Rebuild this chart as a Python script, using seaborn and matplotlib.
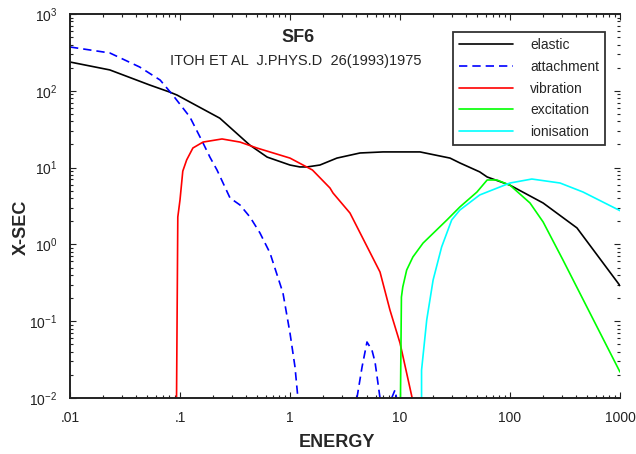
import numpy as np
import pandas as pd
import matplotlib
matplotlib.use('Agg')
import matplotlib.pyplot as plt
from matplotlib.ticker import FixedLocator, FixedFormatter, LogLocator, LogFormatterMathtext
import seaborn as sns

# cross sections (energy in eV, x-sec)
elastic_e = [0.01, 0.023, 0.053, 0.081, 0.094, 0.23, 0.43, 0.62, 1.0, 1.23, 1.43, 1.87,
             2.67, 4.33, 7.0, 15.2, 28.5, 35, 53, 62, 100, 200, 406, 1000]
elastic_x = [237, 187, 119, 96, 88, 44, 19.7, 13.7, 10.8, 10.2, 10.2, 10.8,
             13.3, 15.5, 16.0, 16.0, 13.3, 11.5, 8.8, 7.55, 5.9, 3.46, 1.64, 0.29]

attach_e = [0.01, 0.023, 0.043, 0.066, 0.086, 0.123, 0.162, 0.187, 0.217, 0.285, 0.351,
            0.433, 0.533, 0.658, 0.863, 1.0, 1.11, 1.18,
            4.06, 4.52, 5.01, 5.56, 5.93, 6.58,
            8.4, 9.0, 9.3]
attach_x = [372, 311, 204, 138, 88, 45.6, 20.9, 13.7, 9.3, 4.02, 3.26,
            2.27, 1.41, 0.773, 0.233, 0.070, 0.0254, 0.01,
            0.01, 0.0254, 0.0536, 0.042, 0.0294, 0.01,
            0.01, 0.0127, 0.01]
attach_seg = [1] * 18 + [2] * 6 + [3] * 3

vib_e = [0.093, 0.0955, 0.1, 0.1035, 0.106, 0.115, 0.131, 0.162, 0.241, 0.351, 0.5, 1.0,
         1.6, 2.31, 2.46, 3.51, 6.58, 8.1, 10, 12.9]
vib_x = [0.01, 2.27, 3.79, 6.3, 9.0, 12.6, 18, 21.5, 23.6, 21.5, 18, 13.3,
         9.3, 5.42, 4.67, 2.56, 0.437, 0.14, 0.052, 0.01]

excit_e = [10.1, 10.3, 10.6, 11.5, 13.1, 16.2, 26.7, 35, 50, 62, 76, 100, 152, 200, 303, 1000]
excit_x = [0.01, 0.206, 0.279, 0.464, 0.686, 1.04, 2.08, 3.07, 4.8, 6.9, 6.9, 5.9, 3.46,
           1.96, 0.627, 0.0218]

ion_e = [15.7, 15.7, 17.5, 20, 23.9, 29.5, 35, 53, 62, 100, 158, 285, 461, 1000]
ion_x = [0.01, 0.023, 0.104, 0.344, 0.925, 2.08, 2.8, 4.4, 4.81, 6.3, 7.1, 6.3, 4.81, 2.75]

processes = ['elastic', 'attachment', 'vibration', 'excitation', 'ionisation']
colors = ['#000000', '#0000ff', '#ff0000', '#00ff00', '#00ffff']
x_ticks = [0.01, 0.1, 1, 10, 100, 1000]
x_ticklabels = ['.01', '.1', '1', '10', '100', '1000']

# long table, one unit per drawn piece
parts = [
    ('elastic', elastic_e, elastic_x, [0] * len(elastic_e)),
    ('attachment', attach_e, attach_x, attach_seg),
    ('vibration', vib_e, vib_x, [0] * len(vib_e)),
    ('excitation', excit_e, excit_x, [0] * len(excit_e)),
    ('ionisation', ion_e, ion_x, [0] * len(ion_e)),
]
frames = []
for name, e, x, seg in parts:
    frames.append(pd.DataFrame({'energy': e, 'xsec': x, 'process': name,
                                'unit': [f'{name}{s}' for s in seg]}))
df = pd.concat(frames, ignore_index=True)

sns.set_style('ticks')
plt.rcParams['font.family'] = ['Liberation Sans', 'DejaVu Sans']
plt.rcParams['mathtext.fontset'] = 'custom'
plt.rcParams['mathtext.rm'] = 'Liberation Sans'

fig = plt.figure(figsize=(6.36, 4.54), dpi=100)
ax = fig.add_axes([70 / 636, 1 - 398 / 454, 550 / 636, 384 / 454])

sns.lineplot(data=df, x='energy', y='xsec', hue='process', style='process', units='unit',
             estimator=None, sort=False, hue_order=processes, style_order=processes,
             palette=dict(zip(processes, colors)),
             dashes={'elastic': '', 'attachment': (5, 3), 'vibration': '',
                     'excitation': '', 'ionisation': ''},
             linewidth=1.2, ax=ax)

ax.set_xscale('log')
ax.set_yscale('log')
ax.set_xlim(0.01, 1000)
ax.set_ylim(0.01, 1000)

ax.xaxis.set_major_locator(FixedLocator(x_ticks))
ax.xaxis.set_major_formatter(FixedFormatter(x_ticklabels))
ax.xaxis.set_minor_locator(LogLocator(base=10, subs=np.arange(2, 10)))
ax.yaxis.set_major_locator(LogLocator(base=10, numticks=10))
ax.yaxis.set_major_formatter(LogFormatterMathtext())
ax.yaxis.set_minor_locator(LogLocator(base=10, subs=np.arange(2, 10), numticks=10))

ax.tick_params(which='both', direction='in', top=True, right=True, width=0.8,
               labelsize=10, colors='#222222')
ax.tick_params(which='major', length=4.5)
ax.tick_params(which='minor', length=2.5)
ax.tick_params(axis='x', which='major', pad=9)
ax.tick_params(axis='y', which='major', pad=9)
for side in ['left', 'bottom', 'top']:
    ax.spines[side].set_linewidth(1.4)
    ax.spines[side].set_color('#222222')
ax.spines['right'].set_visible(False)

ax.set_xlabel('ENERGY', fontsize=13, fontweight='bold')
ax.set_ylabel('X-SEC', fontsize=13, fontweight='bold')
ax.xaxis.set_label_coords(0.485, -0.093)
ax.yaxis.set_label_coords(-0.073, 0.445)

ax.text(0.415, 0.940, 'SF6', transform=ax.transAxes, ha='center', va='center',
        fontsize=13, fontweight='bold')
ax.text(0.411, 0.878, 'ITOH ET AL  J.PHYS.D  26(1993)1975', transform=ax.transAxes,
        ha='center', va='center', fontsize=10.5)

leg = ax.legend(loc='upper right', bbox_to_anchor=(0.973, 0.953), borderaxespad=0,
                fontsize=10, handlelength=3.9, handletextpad=1.2, labelspacing=0.55,
                borderpad=0.45, fancybox=False, framealpha=1, title=None)
leg.get_frame().set_edgecolor('#333333')
leg.get_frame().set_linewidth(1.3)
for line in leg.get_lines():
    line.set_linewidth(1.2)

fig.savefig('out.png', dpi=100)
